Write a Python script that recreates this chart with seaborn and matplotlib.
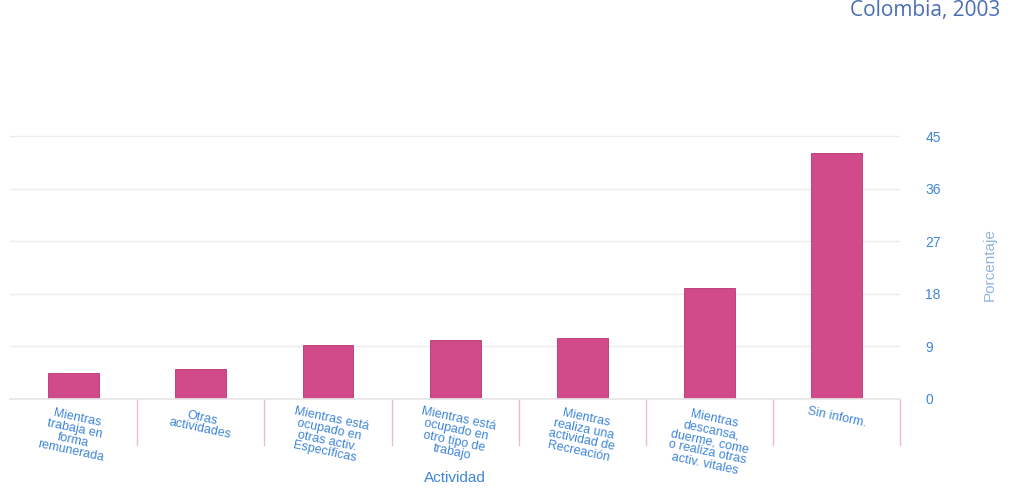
import matplotlib
matplotlib.use("Agg")
import matplotlib.pyplot as plt
import seaborn as sns
import pandas as pd
import numpy as np

categorias = [
    "Mientras\ntrabaja en\nforma\nremunerada",
    "Otras\nactividades",
    "Mientras está\nocupado en\notras activ.\nEspecíficas",
    "Mientras está\nocupado en\notro tipo de\ntrabajo",
    "Mientras\nrealiza una\nactividad de\nRecreación",
    "Mientras\ndescansa,\nduerme, come\no realiza otras\nactiv. vitales",
    "Sin inform.",
]
porcentajes = [4.4, 5.0, 9.2, 10.0, 10.3, 19.0, 42.1]
y_ticks = [0, 9, 18, 27, 36, 45]

df = pd.DataFrame({"Actividad": categorias, "Porcentaje": porcentajes})

sns.set_theme(style="white")
plt.rcParams["font.family"] = ["Liberation Sans", "DejaVu Sans"]

bar_color = "#d14b8b"
text_blue = "#3f86d8"

fig = plt.figure(figsize=(10.15, 4.92), dpi=100)
# axes: x 10..900 px, y 130..398 px
ax = fig.add_axes([0.01, 0.19, 0.877, 0.545])

sns.barplot(data=df, x="Actividad", y="Porcentaje", color=bar_color,
            width=0.4, saturation=1, ax=ax, edgecolor="#b8336f", linewidth=0.6)

ax.set_ylim(0, 46)
ax.set_yticks(y_ticks)
ax.yaxis.tick_right()
ax.yaxis.set_label_position("right")
ax.tick_params(axis="y", colors=text_blue, labelsize=10, length=0, pad=18)
ax.tick_params(axis="x", colors=text_blue, labelsize=9, length=0, pad=5)
for lbl in ax.get_xticklabels():
    lbl.set_rotation(-12)
    lbl.set_ha("center")
    lbl.set_va("top")
    lbl.set_linespacing(0.92)

ax.grid(axis="y", color="#ececec", linewidth=1)
ax.set_axisbelow(True)
for s in ["top", "left", "right"]:
    ax.spines[s].set_visible(False)
ax.spines["bottom"].set_color("#e6e6e6")

# category separators below the floor
n = len(categorias)
for i in range(n):
    ax.plot([i + 0.5, i + 0.5], [0, -8], color="#f2b8c8", linewidth=1,
            clip_on=False, transform=ax.transData)
ax.set_xlim(-0.5, n - 0.5)

ax.set_xlabel("Actividad", color=text_blue, fontsize=11, labelpad=2)
ax.xaxis.set_label_coords(0.5, -0.27)
ax.set_ylabel("Porcentaje", color="#8fb5e0", fontsize=11, labelpad=30)

fig.text(0.985, 1.0, "Colombia, 2003", ha="right", va="top",
         color="#4a6db5", fontsize=15, family=["Open Sans", "DejaVu Sans"])

fig.savefig("out.png", dpi=100, facecolor="white")
